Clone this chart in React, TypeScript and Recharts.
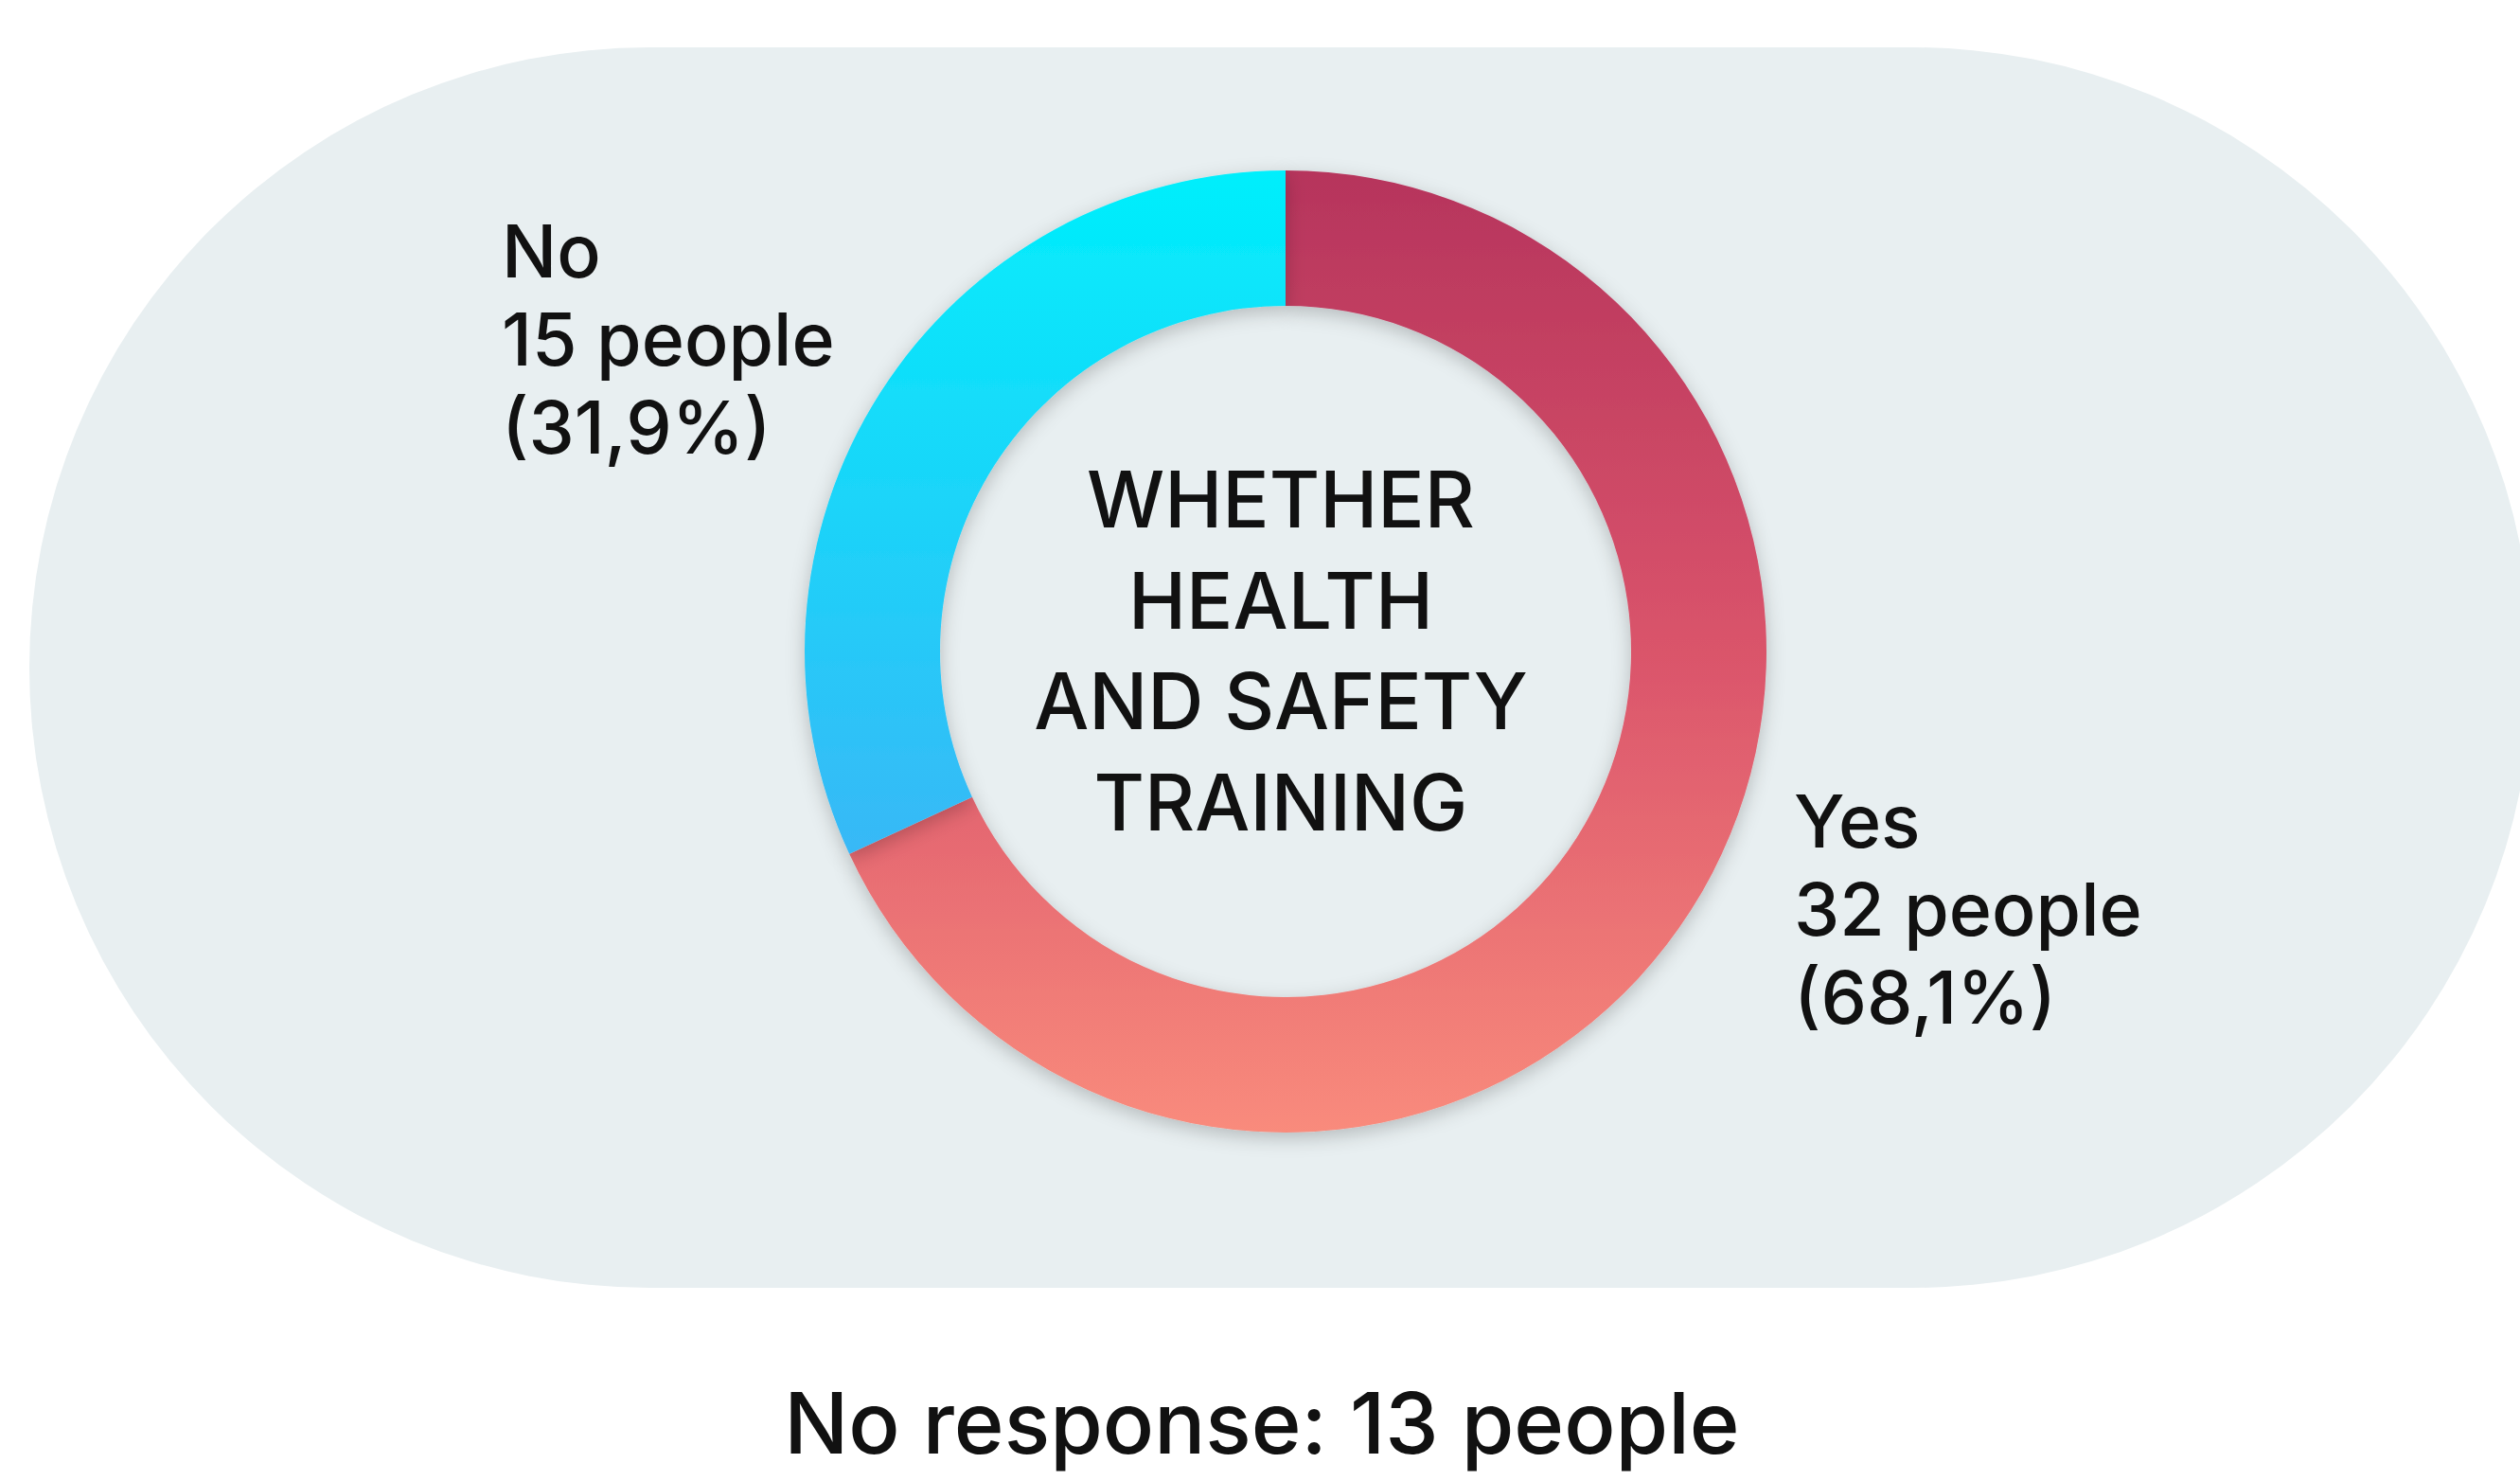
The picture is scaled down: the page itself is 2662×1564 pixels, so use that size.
import { PieChart, Pie, Cell, Label } from 'recharts'

const categories = ['Yes', 'No']
const peopleCounts = [32, 15]
const percentLabels = ['68,1%', '31,9%']
const noResponseCount = 13
const centerTitle = ['WHETHER', 'HEALTH', 'AND SAFETY', 'TRAINING']

const data = categories.map((name, i) => ({ name, value: peopleCounts[i], pct: percentLabels[i] }))

const W = 2662
const H = 1564
const CX = 1353
const CY = 683
const FONT = 'Inter, "Noto Sans", sans-serif'

function SliceLabel(props: any) {
  const { cx, cy, index } = props
  const d = data[index]
  const isYes = index === 0
  const x = isYes ? cx + 537 : cx - 828
  const y = isYes ? cy + 207 : cy - 395
  const lines = [d.name, `${d.value} people`, `(${d.pct})`]
  return (
    <text x={x} y={y} fill="#111" fontFamily={FONT} fontSize={77} fontWeight={500} textAnchor="start">
      {lines.map((l, i) => (
        <tspan key={i} x={x} y={y + i * 93}>{l}</tspan>
      ))}
    </text>
  )
}

function CenterTitle() {
  return (
    <text x={CX} y={CY} fill="#111" fontFamily={FONT} fontSize={82} fontWeight={500} textAnchor="middle">
      {centerTitle.map((l, i) => (
        <tspan key={l} x={CX} y={CY - 126 + i * 106.5}>{l}</tspan>
      ))}
    </text>
  )
}

export default function App() {
  return (
    <div style={{ position: 'absolute', left: 0, top: 0, width: W, height: H, overflow: 'hidden', background: '#fff' }}>
      {/* light pill behind the ring */}
      <div style={{ position: 'absolute', left: 31, top: 50, width: 2644, height: 1310, borderRadius: 655, background: '#e8eff1' }} />
      <div style={{ position: 'absolute', left: 0, top: 0 }}>
        <PieChart width={W} height={H}>
          <defs>
            <linearGradient id="yesGrad" x1="0" y1="0" x2="0" y2="1">
              <stop offset="0%" stopColor="#b6345c" />
              <stop offset="50%" stopColor="#da546b" />
              <stop offset="100%" stopColor="#f98b7c" />
            </linearGradient>
            <linearGradient id="noGrad" x1="0" y1="0" x2="0" y2="1">
              <stop offset="0%" stopColor="#00effc" />
              <stop offset="100%" stopColor="#38b8f6" />
            </linearGradient>
            <filter id="ringShadow" x="-20%" y="-20%" width="140%" height="140%">
              <feDropShadow dx="0" dy="6" stdDeviation="10" floodColor="#000" floodOpacity="0.22" />
            </filter>
          </defs>
          <Pie
            data={data}
            dataKey="value"
            nameKey="name"
            cx={CX}
            cy={CY}
            innerRadius={365}
            outerRadius={508}
            startAngle={90}
            endAngle={-270}
            stroke="none"
            label={SliceLabel}
            labelLine={false}
            isAnimationActive={false}
          >
            <Cell fill="url(#yesGrad)" filter="url(#ringShadow)" />
            <Cell fill="url(#noGrad)" filter="url(#ringShadow)" />
            <Label content={<CenterTitle />} position="center" />
          </Pie>
          <text x={1333} y={1535} fill="#111" fontFamily={FONT} fontSize={90} fontWeight={500} textAnchor="middle">
            {`No response: ${noResponseCount} people`}
          </text>
        </PieChart>
      </div>
    </div>
  )
}
